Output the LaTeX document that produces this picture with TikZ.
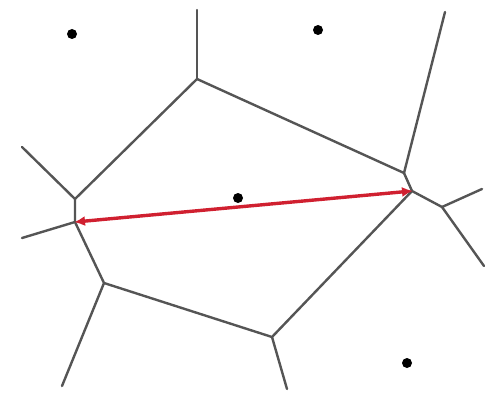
\documentclass[tikz,border=0pt]{standalone}
\usetikzlibrary{arrows.meta}
\definecolor{edgegray}{HTML}{555555}
\definecolor{arrowred}{HTML}{D02030}
\tikzset{
  edge/.style={draw=edgegray, line width=2.4pt, line cap=round, line join=round},
  site/.style={circle, fill=black, inner sep=0pt, minimum size=10pt},
  arr/.style={draw=arrowred, line width=3.4pt, {Latex[length=11pt,width=10pt]}-{Latex[length=11pt,width=10pt]}, shorten <=-1pt, shorten >=-1pt}
}
\begin{document}
\begin{tikzpicture}[x=1pt,y=-1pt]
\useasboundingbox[fill=white] (0,0) rectangle (497,393);
% vertices
\coordinate (A) at (75,199);
\coordinate (B) at (197,79);
\coordinate (C) at (75,222);
\coordinate (D) at (104,283);
\coordinate (E) at (272,337);
\coordinate (F) at (412,191);
\coordinate (G) at (404,173);
\coordinate (H) at (442,207);
% free ends
\coordinate (a1) at (22,147);
\coordinate (b1) at (197,10);
\coordinate (c1) at (22,238);
\coordinate (d1) at (62,386);
\coordinate (e1) at (287,389);
\coordinate (g1) at (445,12);
\coordinate (h1) at (482,189);
\coordinate (h2) at (484,266);
% edges
\draw[edge] (a1) -- (A) -- (B) -- (G) -- (F) -- (H);
\draw[edge] (B) -- (b1);
\draw[edge] (A) -- (C) -- (D) -- (E) -- (F);
\draw[edge] (C) -- (c1);
\draw[edge] (D) -- (d1);
\draw[edge] (E) -- (e1);
\draw[edge] (G) -- (g1);
\draw[edge] (H) -- (h1);
\draw[edge] (H) -- (h2);
% sites
\node[site] (s1) at (72,34) {};
\node[site] (s2) at (318,30) {};
\node[site] (s3) at (238,198) {};
\node[site] (s4) at (407,363) {};
% arrow
\draw[arr] (C) -- (F);
\end{tikzpicture}
\end{document}
